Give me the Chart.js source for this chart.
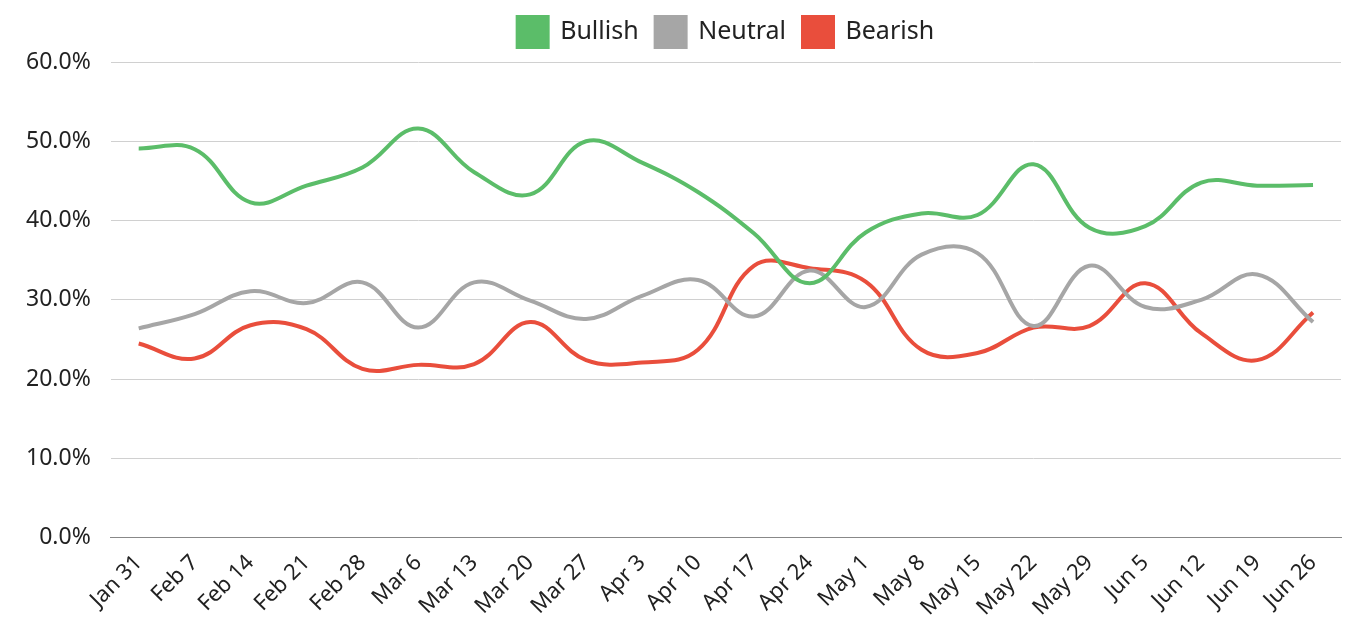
<!DOCTYPE html>
<html>
<head>
<meta charset="utf-8">
<title>Sentiment survey</title>
<script src="https://cdn.jsdelivr.net/npm/chart.js@4.4.0/dist/chart.umd.min.js"></script>
<style>
  html, body { margin: 0; padding: 0; background: #fff; }
  #wrap { width: 1353px; height: 637px; }
</style>
</head>
<body>
<div id="wrap"><canvas id="sentiment-chart"></canvas></div>
<script>
// weekly categories
var weeks = ["Jan 31", "Feb 7", "Feb 14", "Feb 21", "Feb 28", "Mar 6", "Mar 13", "Mar 20",
  "Mar 27", "Apr 3", "Apr 10", "Apr 17", "Apr 24", "May 1", "May 8", "May 15",
  "May 22", "May 29", "Jun 5", "Jun 12", "Jun 19", "Jun 26"];

// percentages
var bullish = [49.1, 49.0, 42.3, 44.4, 46.7, 51.6, 46.1, 43.3, 50.0, 47.3, 43.6, 38.4,
  32.1, 38.5, 40.9, 40.7, 47.1, 39.1, 39.3, 44.8, 44.4, 44.5];
var neutral = [26.4, 28.2, 31.1, 29.6, 32.2, 26.5, 32.2, 29.9, 27.6, 30.5, 32.5, 27.9,
  33.7, 29.1, 35.7, 35.9, 26.7, 34.3, 29.1, 30.0, 33.2, 27.2];
var bearish = [24.5, 22.6, 26.8, 26.3, 21.3, 21.8, 21.9, 27.2, 22.4, 22.1, 23.7, 34.3,
  34.0, 32.3, 23.7, 23.3, 26.5, 26.7, 32.1, 25.8, 22.4, 28.4];

var yTicks = [0, 10, 20, 30, 40, 50, 60];

var fontName = "'Noto Sans', sans-serif";

function lineSet(label, data, colour) {
  return {
    label: label,
    data: data,
    borderColor: colour,
    backgroundColor: colour,
    borderWidth: 4,
    pointRadius: 0,
    pointHoverRadius: 0,
    tension: 0.4,
    fill: false
  };
}

// a bit more room under the legend
var legendGap = {
  id: "legendGap",
  beforeInit: function (chart) {
    var fit = chart.legend.fit;
    chart.legend.fit = function () {
      fit.bind(chart.legend)();
      this.height += 5;
    };
  }
};

new Chart("sentiment-chart", {
  type: "line",
  data: {
    labels: weeks,
    datasets: [
      lineSet("Bullish", bullish, "#5bbd69"),
      lineSet("Neutral", neutral, "#a6a6a6"),
      lineSet("Bearish", bearish, "#e94e3c")
    ]
  },
  options: {
    responsive: true,
    maintainAspectRatio: false,
    animation: false,
    layout: { padding: { left: 6, right: 12, top: 0, bottom: 4 } },
    plugins: {
      tooltip: { enabled: false },
      legend: {
        position: "top",
        fullSize: false,
        labels: {
          boxWidth: 30,
          boxHeight: 30,
          padding: 17,
          color: "#222",
          font: { family: fontName, size: 25 }
        }
      }
    },
    scales: {
      x: {
        offset: true,
        grid: { display: false, drawTicks: false },
        border: { display: true, color: "#888", width: 1 },
        ticks: {
          color: "#222",
          font: { family: fontName, size: 22 },
          maxRotation: 45,
          minRotation: 45,
          padding: 12,
          autoSkip: false
        }
      },
      y: {
        min: 0,
        max: 60,
        afterBuildTicks: function (scale) {
          scale.ticks = yTicks.map(function (v) { return { value: v }; });
        },
        grid: { color: "#d0d0d0", lineWidth: 1, drawTicks: false },
        border: { display: false },
        ticks: {
          color: "#222",
          font: { family: fontName, size: 23 },
          padding: 20,
          callback: function (v) { return v.toFixed(1) + "%"; }
        }
      }
    }
  },
  plugins: [legendGap]
});
</script>
</body>
</html>
